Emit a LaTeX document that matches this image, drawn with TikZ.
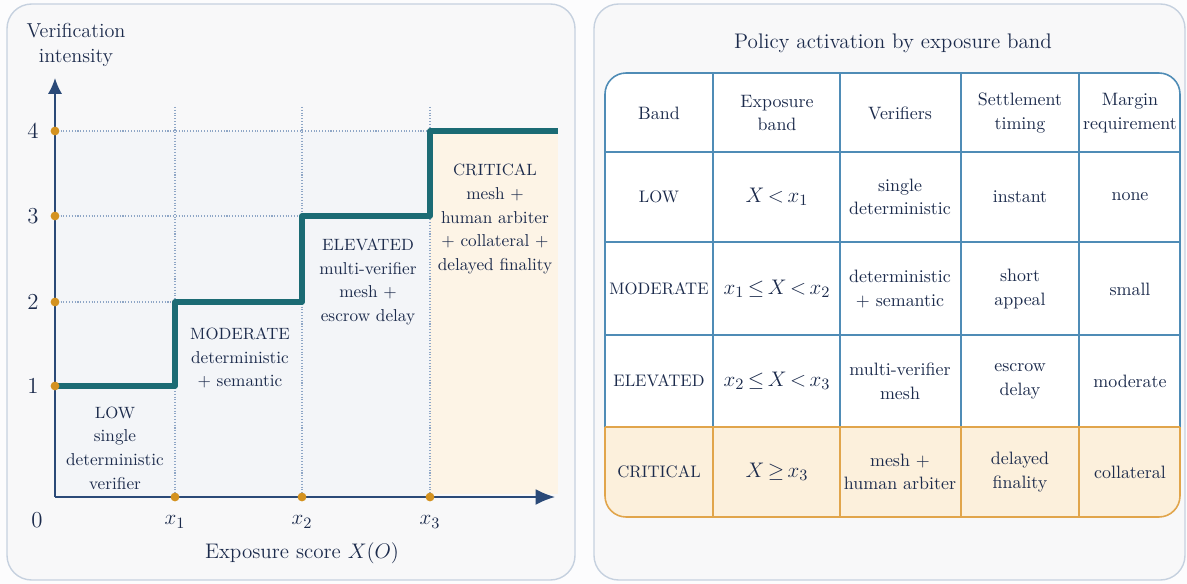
\documentclass[tikz,border=0pt]{standalone}
\usepackage{amsmath}
\usepackage{tikz}
\usetikzlibrary{arrows.meta}

\definecolor{inkblue}{HTML}{1C2B4C}
\definecolor{axisblue}{HTML}{2B4A78}
\definecolor{stepteal}{HTML}{1B6B74}
\definecolor{dotorange}{HTML}{D4921F}
\definecolor{gridblue}{HTML}{8EA6C6}
\definecolor{panelfill}{HTML}{F8F8F9}
\definecolor{panelline}{HTML}{C6D1DF}
\definecolor{plotfill}{HTML}{F3F5F8}
\definecolor{critfill}{HTML}{FCF0DC}
\definecolor{critzone}{HTML}{FDF4E6}
\definecolor{critline}{HTML}{E1A54B}
\definecolor{tabline}{HTML}{4F8CB6}

\newcommand{\bandmath}[1]{{\thickmuskip=3mu\relax\medmuskip=2mu\relax$#1$}}
\newcommand{\bandcap}[1]{{\fontsize{9.3}{13.5}\selectfont #1}}

\tikzset{
	txt/.style={text=inkblue, align=center, font=\fontsize{10.2}{13.5}\selectfont},
	plottxt/.style={text=inkblue, align=center, font=\fontsize{9.8}{13.5}\selectfont},
	caps/.style={text=inkblue, font=\fontsize{9.5}{12}\selectfont},
	mathcell/.style={text=inkblue, font=\fontsize{13}{15}\selectfont},
	tick/.style={text=inkblue, font=\fontsize{13}{15}\selectfont},
	panel/.style={draw=panelline, fill=panelfill, line width=0.8pt, rounded corners=14},
	griddot/.style={gridblue, densely dotted, line width=0.6pt},
	hdot/.style={circle, fill=dotorange, inner sep=0pt, minimum size=5pt}
}

\begin{document}
\begin{tikzpicture}[x=0.02cm, y=-0.02cm]
	\useasboundingbox (0,0) rectangle (1187,584);
	\fill[white!60!panelfill] (0,0) rectangle (1187,584);

	% panels
	\draw[panel] (7,4) rectangle (575,580);
	\draw[panel] (594,4) rectangle (1185,580);

	% plot area
	\fill[plotfill] (55,131) rectangle (430,497);
	\fill[critzone] (430,131) rectangle (558,494);
	\draw[griddot] (55,131) -- (430,131);
	\draw[griddot] (55,216) -- (302,216);
	\draw[griddot] (55,302) -- (175,302);
	\foreach \x in {175,302,430}
		\draw[griddot] (\x,107) -- (\x,497);

	% axes
	\draw[axisblue, line width=1pt, -{Latex[length=9pt,width=8pt]}] (55,497) -- (55,78);
	\draw[axisblue, line width=1pt, -{Latex[length=11pt,width=9pt]}] (55,497) -- (555,497);

	% step curve
	\draw[stepteal, line width=3.2pt, line join=round] (55,386) -- (175,386) -- (175,302) -- (302,302)
		-- (302,216) -- (430,216) -- (430,131) -- (558,131);

	% ticks
	\foreach \y/\lab in {131/4,216/3,302/2,386/1} {
		\node[hdot] (ty\lab) at (55,\y) {};
		\node[tick] (ly\lab) at (33,\y) {\lab};
	}
	\node[tick] (l0) at (37,520) {0};
	\foreach \x/\i in {175/1,302/2,430/3} {
		\node[hdot] (tx\i) at (\x,497) {};
		\node[tick] (lx\i) at (\x,522) {$x_{\i}$};
	}

	% axis labels
	\node[txt, font=\fontsize{11.5}{14}\selectfont] (ylab) at (76,45) {Verification\\intensity};
	\node[txt, font=\fontsize{12}{14}\selectfont] (xlab) at (302,553) {Exposure score $X(O)$};

	% band labels
	\node[plottxt] (low) at (115,448) {\bandcap{LOW}\\single\\deterministic\\verifier};
	\node[plottxt] (mod) at (240,358) {\bandcap{MODERATE}\\deterministic\\+ semantic};
	\node[plottxt] (elev) at (368,282) {\bandcap{ELEVATED}\\multi-verifier\\mesh +\\escrow delay};
	\node[plottxt] (crit) at (495,219) {\bandcap{CRITICAL}\\mesh +\\human arbiter\\+ collateral +\\delayed finality};

	% table
	\node[txt, font=\fontsize{12}{14}\selectfont] (title) at (893,43) {Policy activation by exposure band};
	\fill[white, rounded corners=12] (605,73) rectangle (1180,517);
	\begin{scope}
		\clip[rounded corners=12] (605,73) rectangle (1180,517);
		\fill[critfill] (605,427) rectangle (1180,517);
	\end{scope}
	\draw[tabline, line width=0.9pt, rounded corners=12] (605,427) -- (605,73) -- (1180,73) -- (1180,427);
	\foreach \y in {152,242,335}
		\draw[tabline, line width=0.9pt] (605,\y) -- (1180,\y);
	\foreach \x in {713,840,961,1079} {
		\draw[tabline, line width=0.9pt] (\x,73) -- (\x,427);
		\draw[critline, line width=0.9pt] (\x,427) -- (\x,517);
	}
	\draw[critline, line width=0.9pt, rounded corners=12] (605,427) -- (605,517) -- (1180,517) -- (1180,427);
	\draw[critline, line width=0.9pt] (605,427) -- (1180,427);

	% header
	\node[txt] (h1) at (659,113) {Band};
	\node[txt] (h2) at (777,113) {Exposure\\band};
	\node[txt] (h3) at (900,113) {Verifiers};
	\node[txt] (h4) at (1020,113) {Settlement\\timing};
	\node[txt] (h5) at (1130,113) {Margin\\requirement};
	% LOW
	\node[caps] (r1a) at (659,197) {LOW};
	\node[mathcell] (r1b) at (777,197) {\bandmath{X < x_1}};
	\node[txt] (r1c) at (900,197) {single\\deterministic};
	\node[txt] (r1d) at (1020,197) {instant};
	\node[txt] (r1e) at (1130,197) {none};
	% MODERATE
	\node[caps] (r2a) at (659,289) {MODERATE};
	\node[mathcell] (r2b) at (777,289) {\bandmath{x_1 \leq X < x_2}};
	\node[txt] (r2c) at (900,289) {deterministic\\+ semantic};
	\node[txt] (r2d) at (1020,289) {short\\appeal};
	\node[txt] (r2e) at (1130,289) {small};
	% ELEVATED
	\node[caps] (r3a) at (659,381) {ELEVATED};
	\node[mathcell] (r3b) at (777,381) {\bandmath{x_2 \leq X < x_3}};
	\node[txt] (r3c) at (900,381) {multi-verifier\\mesh};
	\node[txt] (r3d) at (1020,381) {escrow\\delay};
	\node[txt] (r3e) at (1130,381) {moderate};
	% CRITICAL
	\node[caps] (r4a) at (659,472) {CRITICAL};
	\node[mathcell] (r4b) at (777,472) {\bandmath{X \geq x_3}};
	\node[txt] (r4c) at (900,472) {mesh +\\human arbiter};
	\node[txt] (r4d) at (1020,472) {delayed\\finality};
	\node[txt] (r4e) at (1130,472) {collateral};
\end{tikzpicture}
\end{document}
